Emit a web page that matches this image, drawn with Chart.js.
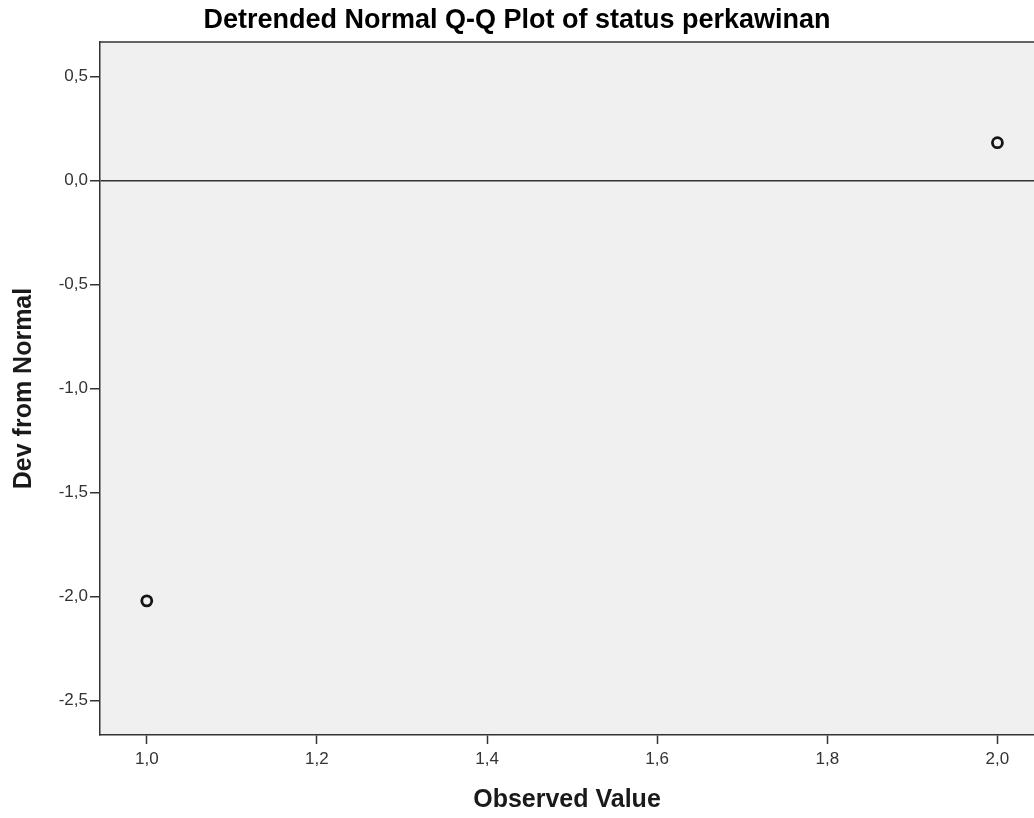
<!DOCTYPE html>
<html>
<head>
<meta charset="utf-8">
<title>Detrended Normal Q-Q Plot</title>
<script src="https://cdn.jsdelivr.net/npm/chart.js@4/dist/chart.umd.min.js"></script>
<style>
  body { margin: 0; background: #fff; }
  canvas { display: block; }
</style>
</head>
<body>
<canvas id="qqChart" width="1034" height="818"></canvas>
<script>
// Data
const observedValues = [1.0, 2.0];
const devFromNormal = [-2.02, 0.183];

// Tick labels
const xTicks = [1.0, 1.2, 1.4, 1.6, 1.8, 2.0];
const yTicks = [-2.5, -2.0, -1.5, -1.0, -0.5, 0.0, 0.5];

const frameColor = '#333333';
const fontFamily = 'Arial, "Liberation Sans", sans-serif';

// Light gray plot background and the top edge of the frame
const plotFrame = {
    id: 'plotFrame',
    beforeDraw(chart) {
        const { ctx, chartArea } = chart;
        ctx.save();
        ctx.fillStyle = '#f0f0f0';
        ctx.fillRect(chartArea.left, chartArea.top, chartArea.right - chartArea.left, chartArea.bottom - chartArea.top);
        ctx.restore();
    },
    afterDraw(chart) {
        const { ctx, chartArea } = chart;
        ctx.save();
        ctx.strokeStyle = frameColor;
        ctx.lineWidth = 1.5;
        ctx.beginPath();
        ctx.moveTo(chartArea.left, chartArea.top);
        ctx.lineTo(chartArea.right, chartArea.top);
        ctx.stroke();
        ctx.restore();
    }
};

function commaFormat(v) {
    return Number(v).toFixed(1).replace('.', ',');
}

const points = observedValues.map((x, i) => ({ x: x, y: devFromNormal[i] }));

const ctx = document.getElementById('qqChart').getContext('2d');
new Chart(ctx, {
    type: 'scatter',
    data: {
        datasets: [{
            label: 'Dev from Normal',
            data: points,
            pointStyle: 'circle',
            pointRadius: 5,
            pointBorderWidth: 2.8,
            pointBorderColor: '#141414',
            pointBackgroundColor: 'rgba(0,0,0,0)'
        }]
    },
    options: {
        responsive: false,
        animation: false,
        layout: { padding: 0, autoPadding: false },
        plugins: {
            legend: { display: false },
            tooltip: { enabled: false },
            title: {
                display: true,
                text: 'Detrended Normal Q-Q Plot of status perkawinan',
                color: '#000',
                font: { family: fontFamily, size: 27, weight: 'bold' },
                padding: { top: 4, bottom: 5.6 }
            }
        },
        scales: {
            x: {
                type: 'linear',
                min: 0.945,
                max: 2.043,
                afterBuildTicks: scale => { scale.ticks = xTicks.map(v => ({ value: v })); },
                afterFit: scale => {
                    scale.height = 83;
                    scale.paddingLeft = 0;
                    scale.paddingRight = 0;
                },
                grid: { display: true, drawOnChartArea: false, tickLength: 9, tickColor: frameColor, tickWidth: 1.5 },
                border: { display: true, color: frameColor, width: 1.5 },
                ticks: {
                    callback: v => commaFormat(v),
                    color: '#333',
                    padding: 5,
                    maxRotation: 0,
                    font: { family: fontFamily, size: 17 }
                },
                title: {
                    display: true,
                    text: 'Observed Value',
                    color: '#1a1a1a',
                    font: { family: fontFamily, size: 25, weight: 'bold' },
                    padding: { top: 0, bottom: 3 }
                }
            },
            y: {
                type: 'linear',
                min: -2.665,
                max: 0.667,
                afterBuildTicks: scale => { scale.ticks = yTicks.map(v => ({ value: v })); },
                afterFit: scale => { scale.width = 100; },
                grid: {
                    display: true,
                    drawOnChartArea: true,
                    tickLength: 10,
                    tickColor: frameColor,
                    tickWidth: 1.5,
                    lineWidth: 1.5,
                    color: c => (c.tick && c.tick.value === 0 ? frameColor : 'rgba(0,0,0,0)')
                },
                border: { display: true, color: frameColor, width: 1.5 },
                ticks: {
                    callback: v => commaFormat(v),
                    color: '#333',
                    padding: 2,
                    font: { family: fontFamily, size: 17 }
                },
                title: {
                    display: true,
                    text: 'Dev from Normal',
                    color: '#1a1a1a',
                    font: { family: fontFamily, size: 25, weight: 'bold' },
                    padding: { top: 9, bottom: 0 }
                }
            }
        }
    },
    plugins: [plotFrame]
});
</script>
</body>
</html>
